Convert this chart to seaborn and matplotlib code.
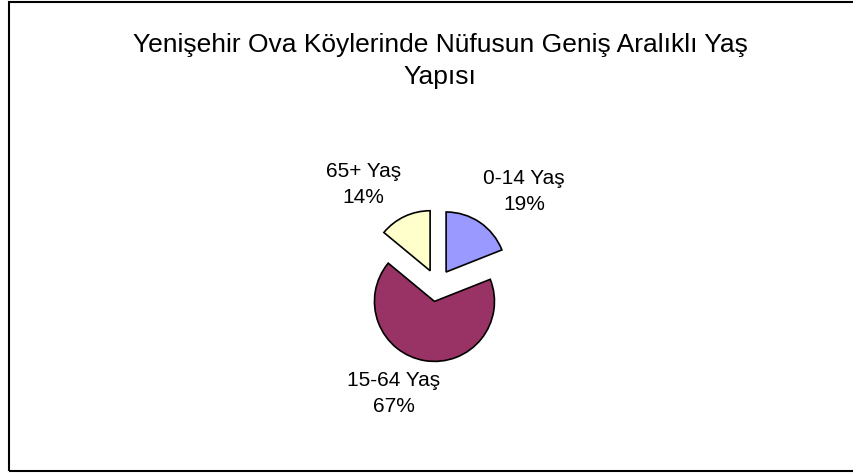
import matplotlib
matplotlib.use("Agg")
import matplotlib.pyplot as plt
import matplotlib.patches as mpatches
import seaborn as sns

# veriler
gruplar = ["0-14 Yaş", "15-64 Yaş", "65+ Yaş"]
oranlar = [19, 67, 14]
renkler = ["#9999FF", "#993366", "#FFFFCC"]

sns.set_theme(style="white")
plt.rcParams["font.family"] = ["Liberation Sans", "DejaVu Sans"]

W, H = 854, 476
fig = plt.figure(figsize=(W / 100, H / 100), dpi=100)
fig.patch.set_facecolor("white")
ax = fig.add_axes([0, 0, 1, 1])

palette = sns.color_palette(renkler)
wedges, _ = ax.pie(oranlar, colors=palette, startangle=90, counterclock=False,
                   explode=[0.27] * len(oranlar), radius=1,
                   wedgeprops=dict(edgecolor="black", linewidth=1.2))

# 1 birim = 60 px, pasta merkezi (437, 285) px
px = 60.0
cx, cy = 437, 285.4
ax.set_xlim(-cx / px, (W - cx) / px)
ax.set_ylim(-(H - cy) / px, cy / px)
ax.set_aspect("auto")
ax.axis("off")

# etiketler
etiket_yer = [(1.45, 1.57), (-0.72, -1.80), (-1.23, 1.68)]
for g, o, (x, y) in zip(gruplar, oranlar, etiket_yer):
    ax.text(x, y, f"{g}\n{o}%", ha="center", va="center", fontsize=15,
            linespacing=1.45, color="black")

fig.text(440 / W, 1 - 61 / H,
         "Yenişehir Ova Köylerinde Nüfusun Geniş Aralıklı Yaş\nYapısı",
         ha="center", va="center", fontsize=19, linespacing=1.4, color="black")

# cerceve
rect = mpatches.Rectangle((9.5 / W, 1 - 470.5 / H), 2, (469 / H),
                          transform=fig.transFigure, fill=False,
                          edgecolor="black", linewidth=1.5)
fig.patches.append(rect)

fig.savefig("out.png", dpi=100)
